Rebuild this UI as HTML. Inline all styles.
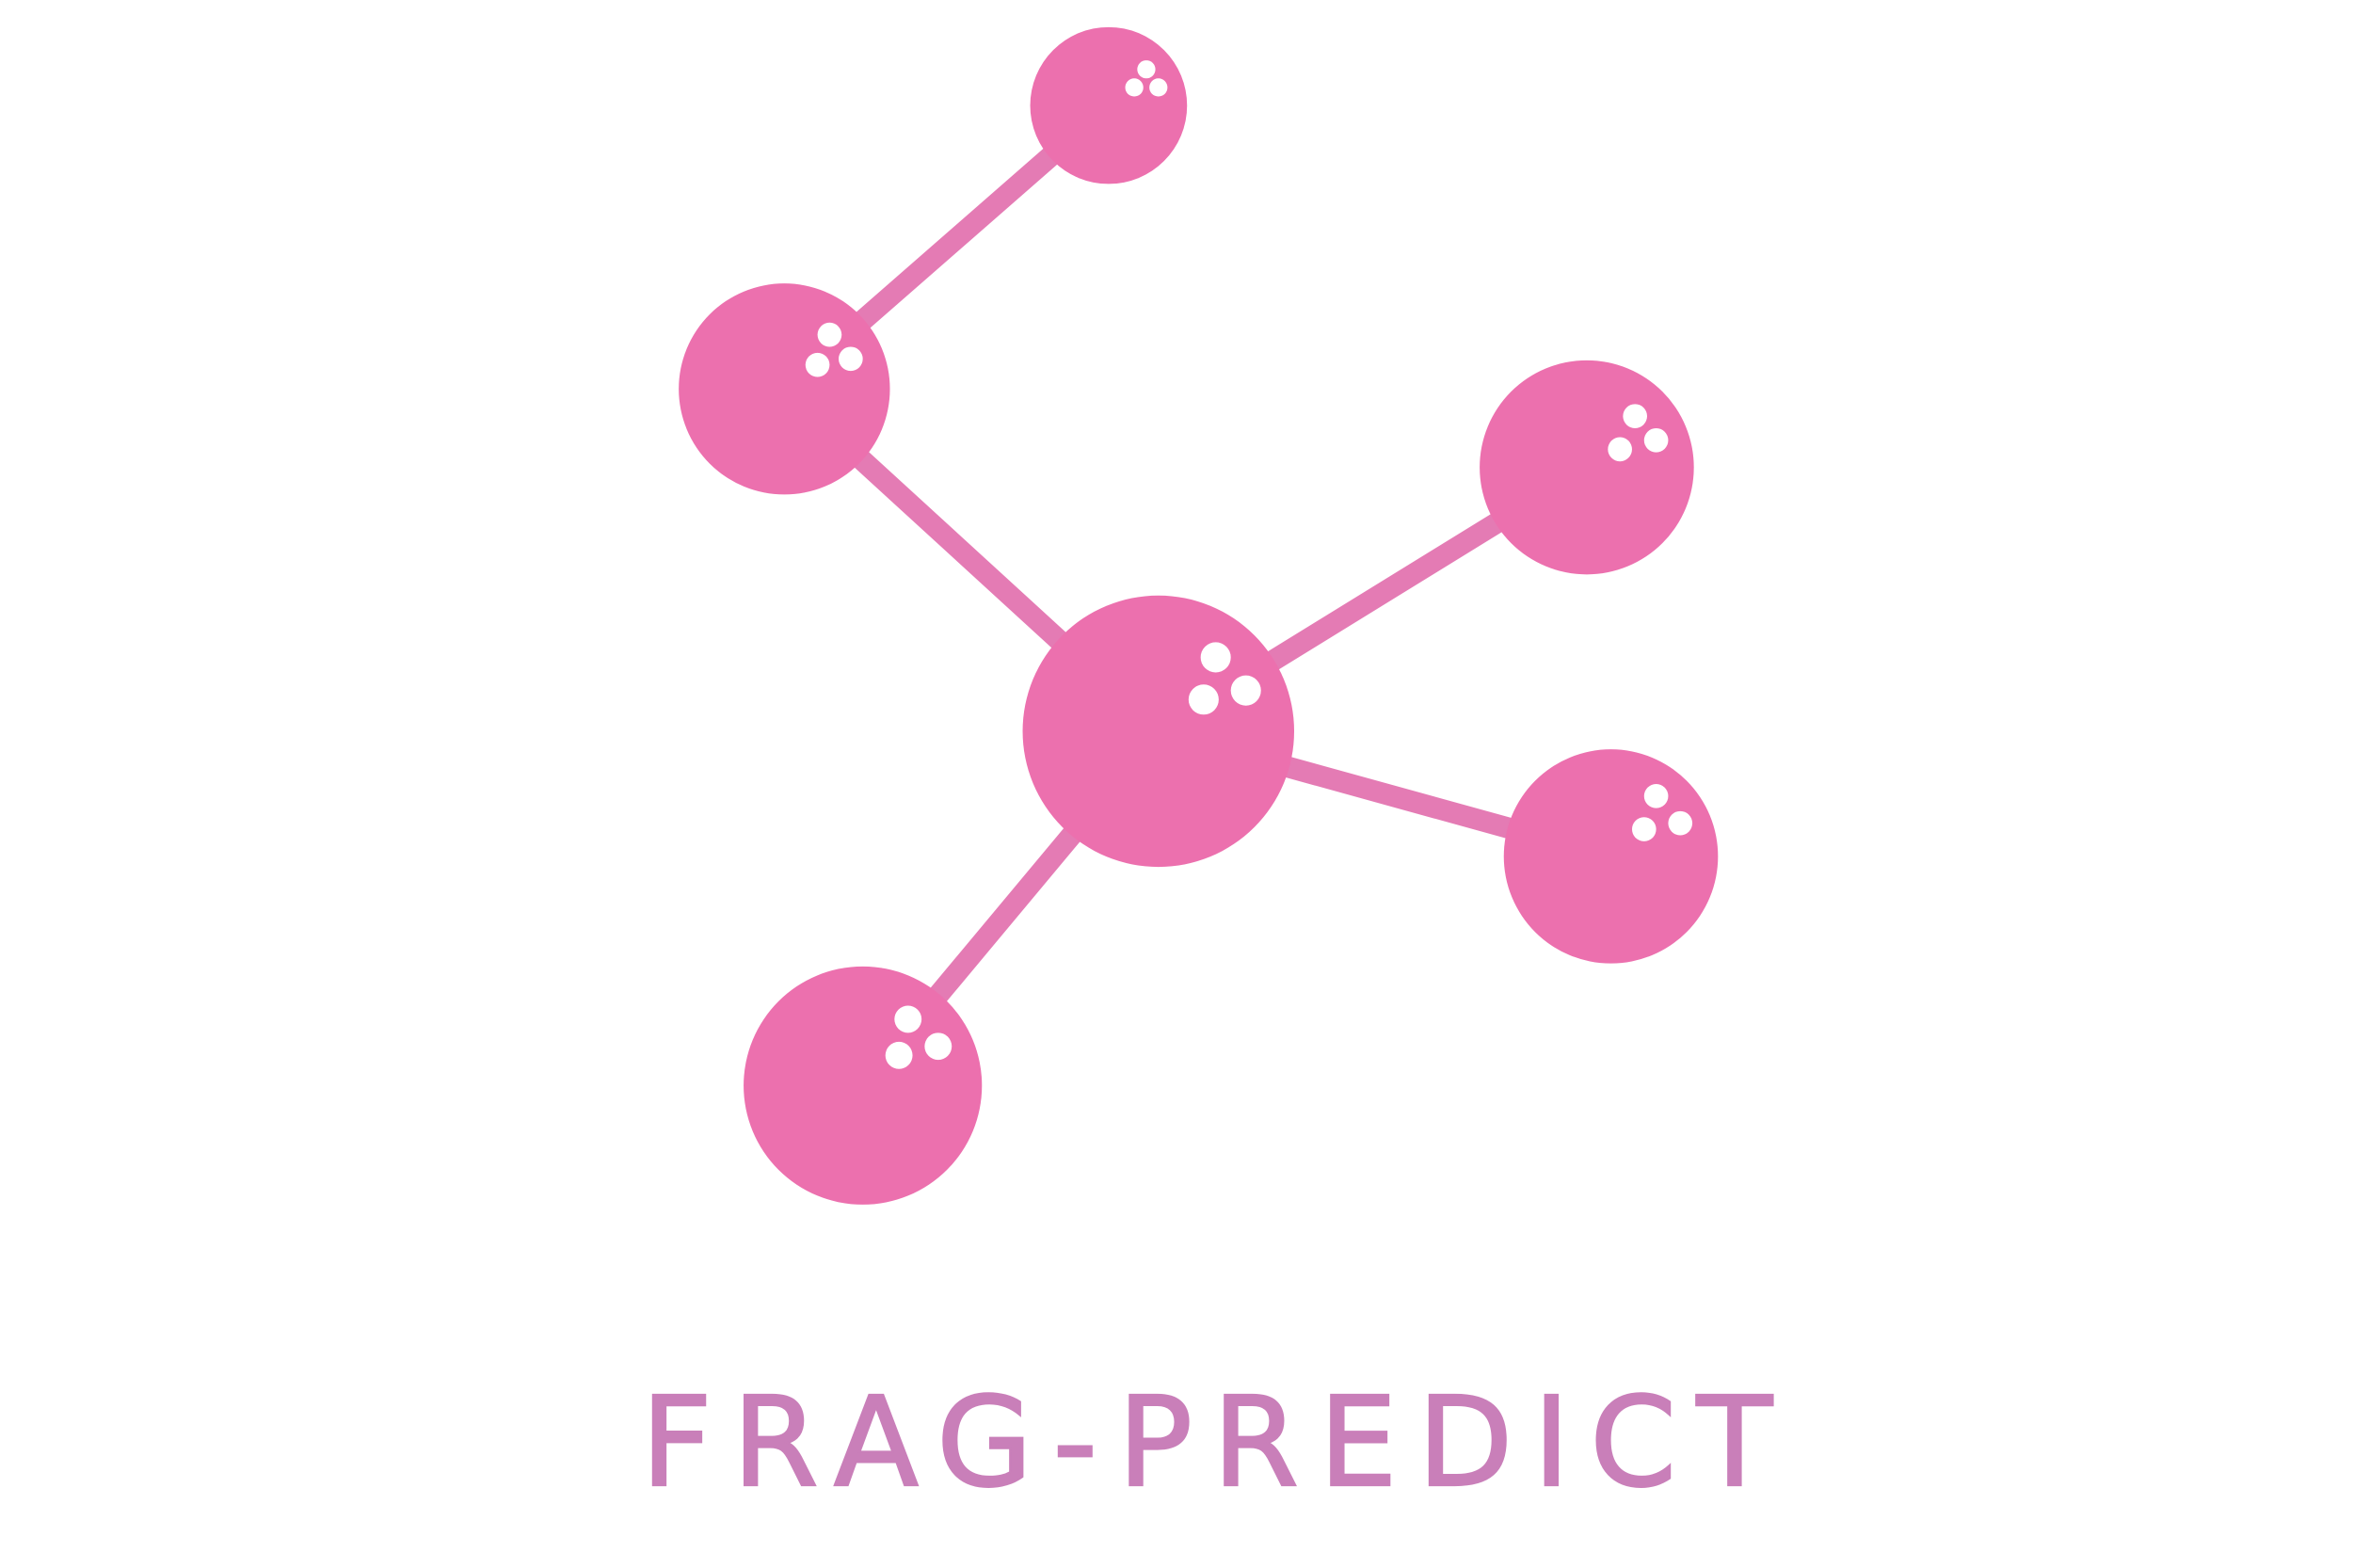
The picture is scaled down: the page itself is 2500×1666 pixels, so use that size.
<!DOCTYPE html>
<html><head><meta charset="utf-8"><style>
html,body{margin:0;padding:0;background:#fff;}
svg{display:block;}
</style></head><body>
<svg width="2500" height="1666" viewBox="0 0 1560 1040" preserveAspectRatio="none" xmlns="http://www.w3.org/2000/svg">
<rect width="1560" height="1040" fill="#fff"/>
<g stroke="#e47bb4" stroke-width="14" stroke-linecap="round">
<line x1="735" y1="70" x2="520" y2="258"/>
<line x1="520" y1="258" x2="768" y2="485"/>
<line x1="768" y1="485" x2="1052" y2="310"/>
<line x1="768" y1="485" x2="1068" y2="568"/>
<line x1="768" y1="485" x2="572" y2="720"/>
</g>
<g fill="#ec70ae">
<circle cx="735" cy="70" r="52"/>
<circle cx="520" cy="258" r="70"/>
<circle cx="1052" cy="310" r="71"/>
<circle cx="768" cy="485" r="90"/>
<circle cx="1068" cy="568" r="71"/>
<circle cx="572" cy="720" r="79"/>
</g>
<g fill="#fff">
<circle cx="760" cy="46" r="6"/><circle cx="752" cy="58" r="6"/><circle cx="768" cy="58" r="6"/>
<circle cx="550" cy="222" r="8"/><circle cx="542" cy="242" r="8"/><circle cx="564" cy="238" r="8"/>
<circle cx="1084" cy="276" r="8"/><circle cx="1074" cy="298" r="8"/><circle cx="1098" cy="292" r="8"/>
<circle cx="806" cy="436" r="10"/><circle cx="798" cy="464" r="10"/><circle cx="826" cy="458" r="10"/>
<circle cx="1098" cy="528" r="8"/><circle cx="1090" cy="550" r="8"/><circle cx="1114" cy="546" r="8"/>
<circle cx="602" cy="676" r="9"/><circle cx="596" cy="700" r="9"/><circle cx="622" cy="694" r="9"/>
</g>
<text x="425" y="985" textLength="750" lengthAdjust="spacing" font-family="DejaVu Sans, sans-serif" font-size="82" fill="#c97fb9" stroke="#c97fb9" stroke-width="1.5">FRAG-PREDICT</text>
</svg>
</body></html>
